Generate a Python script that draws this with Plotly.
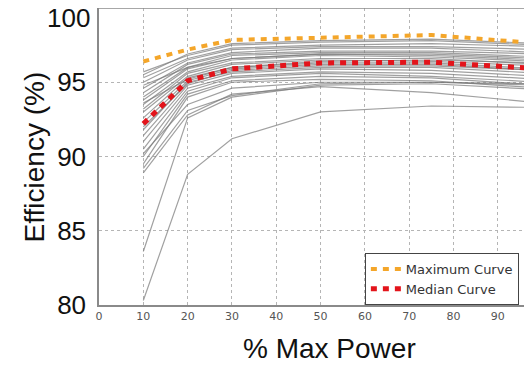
import plotly.graph_objects as go

# Load levels (% of max power) at which efficiency was measured
power_pct = [10, 20, 30, 50, 75, 100]

# Individual inverter efficiency curves (%), one list per unit
unit_curves = [
    [95.7, 96.8, 97.5, 97.7, 97.8, 97.5],
    [95.5, 96.9, 97.6, 97.8, 97.9, 97.6],
    [95.3, 96.6, 97.3, 97.5, 97.6, 97.4],
    [95.0, 96.5, 97.2, 97.4, 97.4, 97.2],
    [94.8, 96.0, 96.6, 96.9, 96.9, 96.6],
    [94.6, 96.3, 97.0, 97.3, 97.3, 97.0],
    [94.3, 96.2, 96.9, 97.1, 97.1, 96.9],
    [94.0, 96.0, 96.8, 97.0, 97.0, 96.7],
    [93.8, 95.9, 96.6, 96.9, 96.8, 96.5],
    [93.6, 95.2, 96.0, 96.4, 96.5, 96.3],
    [93.5, 95.7, 96.5, 96.8, 96.7, 96.4],
    [93.2, 95.6, 96.3, 96.6, 96.6, 96.2],
    [93.0, 95.4, 96.2, 96.5, 96.4, 96.1],
    [92.6, 95.3, 96.0, 96.3, 96.3, 95.9],
    [92.3, 95.1, 95.9, 96.2, 96.2, 95.8],
    [92.0, 94.9, 95.8, 96.1, 96.1, 95.8],
    [91.8, 95.0, 95.7, 96.0, 96.0, 95.6],
    [91.4, 94.8, 95.6, 95.9, 95.8, 95.4],
    [91.0, 94.6, 95.4, 95.7, 95.6, 95.2],
    [90.5, 94.4, 95.3, 95.6, 95.4, 95.0],
    [90.2, 93.5, 94.6, 95.0, 95.0, 94.8],
    [90.0, 94.2, 95.1, 95.4, 95.3, 94.8],
    [89.5, 94.0, 95.0, 95.2, 95.1, 94.6],
    [89.2, 93.1, 94.1, 94.9, 95.0, 94.9],
    [88.9, 92.8, 94.2, 94.7, 94.3, 93.6],
    [83.6, 92.6, 94.0, 94.8, 94.9, 94.5],
    [80.3, 88.8, 91.2, 93.0, 93.4, 93.3],
]

max_curve = [96.4, 97.2, 97.85, 97.97, 98.18, 97.6]
median_curve = [92.2, 95.1, 95.9, 96.3, 96.35, 95.9]

x_ticks = [0, 10, 20, 30, 40, 50, 60, 70, 80, 90, 100]
y_ticks = [80, 85, 90, 95]
y_top_label = "100"

fig = go.Figure()

for curve in unit_curves:
    fig.add_trace(go.Scatter(
        x=power_pct, y=curve, mode="lines",
        line=dict(color="rgba(120,120,120,0.7)", width=1.2),
        showlegend=False, hoverinfo="skip"))

fig.add_trace(go.Scatter(
    x=power_pct, y=max_curve, mode="lines", name="Maximum Curve",
    line=dict(color="#F4A62A", width=4, dash="6px,6px")))
fig.add_trace(go.Scatter(
    x=power_pct, y=median_curve, mode="lines", name="Median Curve",
    line=dict(color="#E3141B", width=5, dash="6px,6px")))

fig.update_layout(
    width=524, height=357,
    margin=dict(l=91, r=0, t=0, b=60),
    paper_bgcolor="white", plot_bgcolor="white",
    xaxis=dict(
        range=[0, 97.7], tickvals=x_ticks, ticktext=[str(v) for v in x_ticks],
        automargin=False,
        showgrid=True, gridcolor="#b5b5b5", griddash="dot", gridwidth=1,
        zeroline=False, showline=True, linecolor="#8a8a8a", linewidth=1.5,
        ticks="", tickfont=dict(family="DejaVu Sans", size=11, color="#555")),
    yaxis=dict(
        range=[80, 100], tickvals=y_ticks, automargin=False,
        showgrid=True, gridcolor="#b5b5b5", griddash="dot", gridwidth=1,
        zeroline=False, showline=True, linecolor="#8a8a8a", linewidth=1.5,
        ticks="", ticklabelstandoff=6,
        tickfont=dict(family="Liberation Sans", size=26, color="#111")),
    legend=dict(
        x=0.614, y=0.175, xanchor="left", yanchor="top",
        bgcolor="white", bordercolor="#444", borderwidth=1,
        font=dict(family="DejaVu Sans", size=13, color="#333"),
        tracegroupgap=0),
    shapes=[dict(type="line", xref="paper", yref="paper", x0=0, x1=1, y0=1, y1=1,
                 line=dict(color="#8a8a8a", width=1.5))],
    annotations=[
        dict(text=y_top_label, xref="paper", yref="y",
             x=-0.016, y=99.3, xanchor="right", yanchor="middle",
             showarrow=False, font=dict(family="Liberation Sans", size=26, color="#111")),
        dict(text="Efficiency (%)", xref="paper", yref="paper",
             x=-0.148, y=0.5, xanchor="center", yanchor="middle", textangle=-90,
             showarrow=False, font=dict(family="Liberation Sans", size=28, color="#111")),
        dict(text="% Max Power", xref="paper", yref="paper",
             x=0.533, y=-0.145, xanchor="center", yanchor="middle",
             showarrow=False, font=dict(family="Liberation Sans", size=28, color="#111")),
    ],
)

fig.write_html("out.html")
